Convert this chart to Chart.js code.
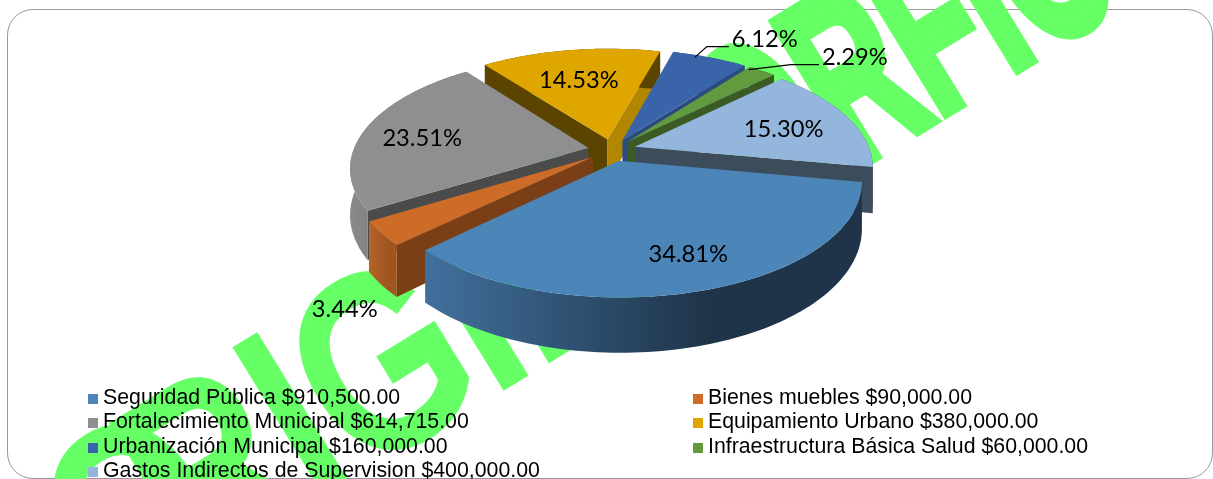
<!DOCTYPE html>
<html>
<head>
<meta charset="utf-8">
<script src="https://cdn.jsdelivr.net/npm/chart.js@4"></script>
<style>
    html, body { margin: 0; padding: 0; background: #fff; overflow: hidden; }
    #wrap { position: relative; width: 1213px; height: 479px; overflow: hidden; }
    #frame { position: absolute; left: 7px; top: 9px; width: 1206px; height: 470px; border: 1.5px solid #999; border-radius: 26px; box-sizing: border-box; }
    #pie { position: absolute; left: 0; top: 0; }
    .legend-row { position: absolute; font: 21.3px/24px "Liberation Sans", Arial, sans-serif; color: #000; white-space: nowrap; }
    .legend-row i { display: inline-block; width: 10px; height: 10px; margin-right: 5px; }
</style>
</head>
<body>
<div id="wrap">
    <div id="frame"></div>
    <canvas id="pie" width="1213" height="479"></canvas>
    <div id="legend"></div>
</div>
<script>
// Chart values
const categories = ['Seguridad Pública', 'Bienes muebles', 'Fortalecimiento Municipal', 'Equipamiento Urbano', 'Urbanización Municipal', 'Infraestructura Básica Salud', 'Gastos Indirectos de Supervision'];
const amounts = [910500, 90000, 614715, 380000, 160000, 60000, 400000];
const percentLabels = ['34.81%', '3.44%', '23.51%', '14.53%', '6.12%', '2.29%', '15.30%'];

// Slice colours
const topColors = ['#4c86b9', '#cc6c28', '#8f8f8f', '#e0a600', '#3a64aa', '#629a40', '#94b5dc'];
const rimColors = [['#41709d', '#1f3449'], ['#b5642a', '#a05520'], ['#8a8a8a', '#6a6a6a'], ['#5a4400', '#5a4400'], ['#2a4a80', '#2a4a80'], ['#3b5a24', '#3b5a24'], ['#3d4c5b', '#3d4c5b']];
// start side and end side of each slice
const cutColors = [['#1f3349', '#41709d'], ['#7a3f17', '#b5642a'], ['#4b4b4b', '#7a7a7a'], ['#5a4400', '#b38600'], ['#2a4a80', '#2a4a80'], ['#3b5a24', '#3b5a24'], ['#3d4c5b', '#3d4c5b']];

// Label placement, in radii from the pie centre and degrees away from the slice middle
const labelRadius = [0.865, 1.48, 0.83, 0.73, 1.45, 1.56, 0.78];
const labelTurn = [-2, -14, -3, -1.5, 6.6, 9.4, 2.4];
const leaderSlices = [4, 5];
const leaderTurn = { 4: -3.6, 5: -3 };
const leaderElbow = { 4: 22, 5: 28 };

// Watermark pieces that show around the pie
const watermarkTexts = ['O', 'RIGIN', 'ORFIC'];
const watermarkStyles = [
    { weight: 'normal', start: -229, squeeze: 0.8, stroke: 13 },
    { weight: 'normal', start: -139, squeeze: 0.82, stroke: 13 },
    { weight: 'bold', start: 531, squeeze: 0.57, stroke: 12 }
];

// View of the tilted pie
const view = { x: 612, y: 150, tilt: 0.465, persp: 0.17, radius: 235, explode: 24, depth: 45 };

// Project a point on the pie plane to the screen, z goes down
function project(dx, dy, z) {
    const s = 1 / (1 - view.persp * dy / view.radius);
    return { x: view.x + dx * s, y: view.y + (view.tilt * dy + z) * s };
}

// Outline points of a slice, sampled along the rim
function rimPoints(arc, z, ox, oy) {
    const pts = [];
    const steps = Math.max(4, Math.ceil((arc.endAngle - arc.startAngle) * 40));
    for (let i = 0; i <= steps; i++) {
        const a = arc.startAngle + (arc.endAngle - arc.startAngle) * i / steps;
        pts.push(project(ox + Math.cos(a) * arc.outerRadius, oy + Math.sin(a) * arc.outerRadius, z));
    }
    return pts;
}

function fillPoly(ctx, pts, fill) {
    ctx.beginPath();
    pts.forEach((p, i) => i ? ctx.lineTo(p.x, p.y) : ctx.moveTo(p.x, p.y));
    ctx.closePath();
    ctx.fillStyle = fill;
    ctx.fill();
}

function sideGradient(ctx, pts, stops) {
    const xs = pts.map(p => p.x);
    const g = ctx.createLinearGradient(Math.min(...xs), 0, Math.max(...xs), 0);
    g.addColorStop(0, stops[0]);
    g.addColorStop(0.65, stops[1]);
    g.addColorStop(1, stops[1]);
    return g;
}

// Draws the arcs the pie controller laid out as a 3D exploded pie
const tiltedPie = {
    id: 'tiltedPie',
    beforeDatasetDraw(chart) {
        const ctx = chart.ctx;
        const arcs = chart.getDatasetMeta(0).data;
        const order = arcs.map((arc, i) => i).sort((a, b) =>
            Math.sin((arcs[a].startAngle + arcs[a].endAngle) / 2) - Math.sin((arcs[b].startAngle + arcs[b].endAngle) / 2));
        order.forEach(i => {
            const arc = arcs[i];
            const mid = (arc.startAngle + arc.endAngle) / 2;
            const ox = Math.cos(mid) * view.explode;
            const oy = Math.sin(mid) * view.explode;
            const top = rimPoints(arc, 0, ox, oy);
            const low = rimPoints(arc, view.depth, ox, oy);
            const apexTop = project(ox, oy, 0);
            const apexLow = project(ox, oy, view.depth);
            // cut faces, only the ones turned to the viewer
            if (Math.cos(arc.startAngle) < 0) {
                fillPoly(ctx, [apexTop, top[0], low[0], apexLow], cutColors[i][0]);
            }
            if (Math.cos(arc.endAngle) > 0) {
                fillPoly(ctx, [apexTop, top[top.length - 1], low[low.length - 1], apexLow], cutColors[i][1]);
            }
            // outer rim
            const rim = top.concat(low.slice().reverse());
            fillPoly(ctx, rim, sideGradient(ctx, rim, rimColors[i]));
            // top face
            fillPoly(ctx, [apexTop].concat(top), topColors[i]);
        });
        // percentages and leader lines
        ctx.fillStyle = '#000';
        ctx.font = '23.7px Lato, "Noto Sans", sans-serif';
        ctx.textAlign = 'center';
        ctx.textBaseline = 'middle';
        arcs.forEach((arc, i) => {
            const mid = (arc.startAngle + arc.endAngle) / 2;
            const a = mid + labelTurn[i] * Math.PI / 180;
            const r = labelRadius[i] * arc.outerRadius;
            const p = project(Math.cos(a) * r, Math.sin(a) * r, 0);
            ctx.fillText(percentLabels[i], p.x, p.y);
            if (leaderSlices.includes(i)) {
                const w = ctx.measureText(percentLabels[i]).width;
                const q = view.explode + arc.outerRadius * 0.97;
                const f = mid + leaderTurn[i] * Math.PI / 180;
                const foot = project(Math.cos(f) * q, Math.sin(f) * q, 0);
                const endX = p.x - w / 2 - 3;
                ctx.beginPath();
                ctx.moveTo(foot.x, foot.y);
                ctx.lineTo(endX - leaderElbow[i], p.y + 7);
                ctx.lineTo(endX, p.y + 7);
                ctx.strokeStyle = '#000';
                ctx.lineWidth = 1.2;
                ctx.stroke();
            }
        });
        return false;
    },
    beforeDraw(chart) {
        // green watermark behind the pie
        const ctx = chart.ctx;
        watermarkTexts.forEach((text, i) => {
            const st = watermarkStyles[i];
            ctx.save();
            ctx.rotate(-31.5 * Math.PI / 180);
            ctx.scale(st.squeeze, 1);
            ctx.fillStyle = '#66ff66';
            ctx.strokeStyle = '#66ff66';
            ctx.lineWidth = st.stroke;
            ctx.font = st.weight + ' 241px "Liberation Sans", sans-serif';
            ctx.textBaseline = 'alphabetic';
            ctx.fillText(text, st.start / st.squeeze, 590);
            ctx.strokeText(text, st.start / st.squeeze, 590);
            ctx.restore();
        });
    }
};

new Chart(document.getElementById('pie'), {
    type: 'pie',
    data: {
        labels: categories,
        datasets: [{ data: amounts, backgroundColor: topColors, borderWidth: 0, radius: view.radius }]
    },
    options: {
        responsive: false,
        animation: false,
        rotation: 100.5,
        plugins: { legend: { display: false }, tooltip: { enabled: false } }
    },
    plugins: [tiltedPie]
});

// Legend in two columns under the pie
const legend = document.getElementById('legend');
categories.forEach((name, i) => {
    const row = document.createElement('div');
    row.className = 'legend-row';
    row.style.left = (i === 6 || i % 2 === 0 ? 88 : 693) + 'px';
    row.style.top = (385 + Math.floor(i / 2) * 24.4) + 'px';
    const money = '$' + amounts[i].toLocaleString('en-US', { minimumFractionDigits: 2 });
    row.innerHTML = `<i style="background:${topColors[i]}"></i>${name} ${money}`;
    legend.appendChild(row);
});
</script>
</body>
</html>
